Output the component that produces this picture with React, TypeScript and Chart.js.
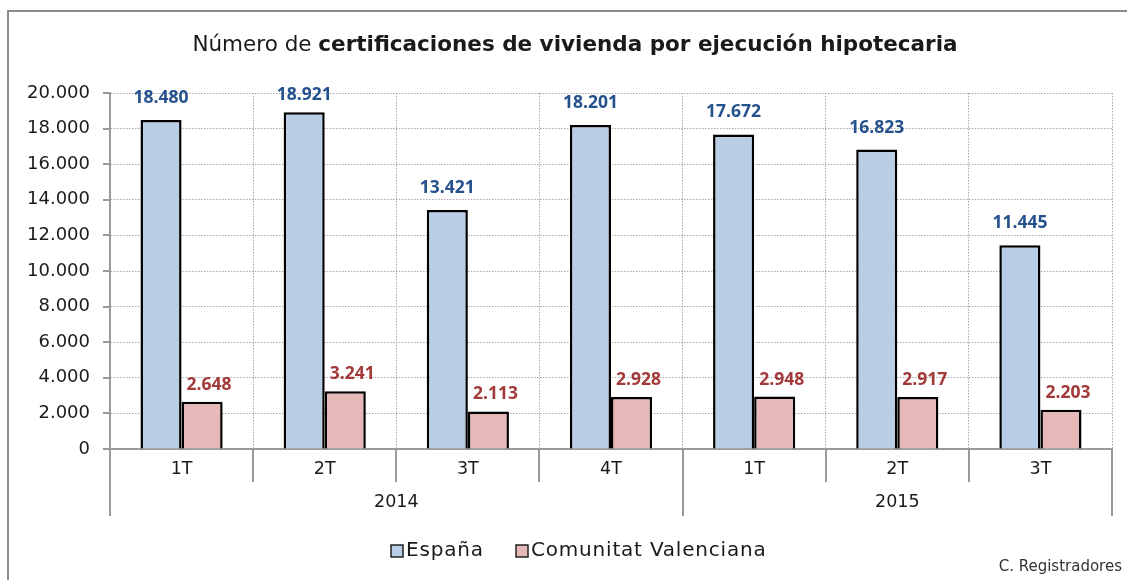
import React, { useEffect, useRef } from 'react';
import { Chart, registerables } from 'chart.js';

Chart.register(...registerables);

const quarters = ['1T', '2T', '3T', '4T', '1T', '2T', '3T'];
const years = ['2014', '2015'];
const yearSpans = [4, 3];
const espana = [18480, 18921, 13421, 18201, 17672, 16823, 11445];
const valenciana = [2648, 3241, 2113, 2928, 2948, 2917, 2203];
const seriesNames = ['España', 'Comunitat Valenciana'];
const titleNormal = 'Número de ';
const titleBold = 'certificaciones de vivienda por ejecución hipotecaria';
const sourceText = 'C. Registradores';

const FONT = '"DejaVu Sans", sans-serif';
const BOLD_FONT = '"Open Sans", sans-serif';
const BLUE_FILL = '#B9CDE5';
const RED_FILL = '#E6B9B8';
const BLUE_TEXT = '#25518C';
const RED_TEXT = '#A33A3A';
const AXIS = '#9A9A9A';
const GRID = '#A8A8A8';

function fmt(v: number): string {
  const s = Math.round(v).toString();
  return s.replace(/\B(?=(\d{3})+(?!\d))/g, '.');
}

const decorPlugin = {
  id: 'decor',
  afterDraw(chart: any) {
    const ctx: any = chart.ctx;
    const area = chart.chartArea;
    const ys = chart.scales.y;
    ctx.save();

    // outer frame (left + top)
    ctx.strokeStyle = '#8C8C8C';
    ctx.lineWidth = 2;
    ctx.beginPath();
    ctx.moveTo(8, 580);
    ctx.lineTo(8, 11);
    ctx.lineTo(1127, 11);
    ctx.stroke();

    // title
    ctx.textBaseline = 'middle';
    ctx.fillStyle = '#1a1a1a';
    ctx.font = `21.5px ${FONT}`;
    const w1 = ctx.measureText(titleNormal).width;
    ctx.font = `bold 21.5px ${FONT}`;
    const w2 = ctx.measureText(titleBold).width;
    const tx = 575 - (w1 + w2) / 2;
    ctx.textAlign = 'left';
    ctx.font = `21.5px ${FONT}`;
    ctx.fillText(titleNormal, tx, 45);
    ctx.font = `bold 21.5px ${FONT}`;
    ctx.fillText(titleBold, tx + w1, 45);

    // y tick marks
    ctx.strokeStyle = AXIS;
    ctx.lineWidth = 2;
    ys.ticks.forEach((t: any) => {
      const y = Math.round(ys.getPixelForValue(t.value));
      ctx.beginPath();
      ctx.moveTo(area.left - 7, y);
      ctx.lineTo(area.left + 1, y);
      ctx.stroke();
    });

    // x separators
    const n = quarters.length;
    const cw = (area.right - area.left) / n;
    const yearBounds = new Set<number>();
    let acc = 0;
    yearBounds.add(0);
    yearSpans.forEach((s) => {
      acc += s;
      yearBounds.add(acc);
    });
    for (let i = 0; i <= n; i++) {
      const x = Math.round(area.left + i * cw);
      const yEnd = yearBounds.has(i) ? 516 : 482;
      ctx.beginPath();
      ctx.moveTo(x, area.bottom);
      ctx.lineTo(x, yEnd);
      ctx.stroke();
    }

    // year labels
    ctx.fillStyle = '#1a1a1a';
    ctx.font = `17.5px ${FONT}`;
    ctx.textAlign = 'center';
    acc = 0;
    years.forEach((yl, i) => {
      const x0 = area.left + acc * cw;
      acc += yearSpans[i];
      const x1 = area.left + acc * cw;
      ctx.fillText(yl, (x0 + x1) / 2, 502);
    });

    // legend
    const legendItems = [
      { text: seriesNames[0], fill: BLUE_FILL, box: 391 },
      { text: seriesNames[1], fill: RED_FILL, box: 516 },
    ];
    ctx.font = `20px ${FONT}`;
    ctx.textAlign = 'left';
    legendItems.forEach((it) => {
      ctx.fillStyle = it.fill;
      ctx.fillRect(it.box, 545, 12, 12);
      ctx.strokeStyle = '#222';
      ctx.lineWidth = 1.5;
      ctx.strokeRect(it.box, 545, 12, 12);
      ctx.fillStyle = '#1a1a1a';
      ctx.letterSpacing = '0.8px';
      ctx.fillText(it.text, it.box + 15, 551);
      ctx.letterSpacing = '0px';
    });

    // source
    ctx.font = `15px ${FONT}`;
    ctx.textAlign = 'right';
    ctx.fillStyle = '#333';
    ctx.fillText(sourceText, 1122, 567);

    ctx.restore();
  },
  afterDatasetsDraw(chart: any) {
    const ctx: CanvasRenderingContext2D = chart.ctx;
    ctx.save();
    ctx.font = `bold 17.5px ${BOLD_FONT}`;
    ctx.textAlign = 'center';
    ctx.textBaseline = 'middle';
    const cfg = [
      { color: BLUE_TEXT, dy: 22, dx: 0 },
      { color: RED_TEXT, dy: 17, dx: 7 },
    ];
    chart.data.datasets.forEach((ds: any, di: number) => {
      const meta = chart.getDatasetMeta(di);
      meta.data.forEach((bar: any, i: number) => {
        const y = Math.max(bar.y - cfg[di].dy, 95);
        ctx.fillStyle = cfg[di].color;
        ctx.fillText(fmt(ds.data[i]), bar.x + cfg[di].dx, y);
      });
    });
    ctx.restore();
  },
};

export default function App() {
  const ref = useRef<HTMLCanvasElement | null>(null);
  useEffect(() => {
    document.body.style.margin = '0';
    if (!ref.current) return;
    const chart = new Chart(ref.current, {
      type: 'bar',
      data: {
        labels: quarters,
        datasets: [
          {
            label: seriesNames[0],
            data: espana,
            backgroundColor: BLUE_FILL,
            borderColor: '#000',
            borderWidth: 2.5,
            categoryPercentage: 0.574,
            barPercentage: 1,
          },
          {
            label: seriesNames[1],
            data: valenciana,
            backgroundColor: RED_FILL,
            borderColor: '#000',
            borderWidth: 2.5,
            categoryPercentage: 0.574,
            barPercentage: 1,
          },
        ],
      },
      options: {
        responsive: false,
        animation: false,
        devicePixelRatio: 1,
        layout: { padding: { top: 93, left: 0, right: 15, bottom: 61 } },
        plugins: {
          legend: { display: false },
          title: { display: false },
          tooltip: { enabled: false },
        },
        scales: {
          x: {
            type: 'category',
            offset: true,
            grid: {
              offset: true,
              color: GRID,
              lineWidth: 1,
              drawTicks: false,
            },
            border: { display: true, color: AXIS, width: 2, dash: [1.5, 1.5] },
            ticks: {
              color: '#1a1a1a',
              font: { family: FONT, size: 17.5 },
              padding: 10,
              maxRotation: 0,
            },
            afterFit: (s: any) => {
              s.height = 70;
            },
          },
          y: {
            min: 0,
            max: 20000,
            grid: { color: GRID, lineWidth: 1, drawTicks: false },
            border: { display: true, color: AXIS, width: 2, dash: [1.5, 1.5] },
            ticks: {
              stepSize: 2000,
              color: '#1a1a1a',
              font: { family: FONT, size: 18 },
              padding: 20,
              callback: (v: any) => fmt(Number(v)),
            },
            afterFit: (s: any) => {
              s.width = 110;
            },
          },
        },
      },
      plugins: [decorPlugin],
    } as any);
    return () => chart.destroy();
  }, []);
  return (
    <div style={{ width: 1127, height: 580, background: '#fff' }}>
      <canvas ref={ref} width={1127} height={580} style={{ display: 'block' }} />
    </div>
  );
}
